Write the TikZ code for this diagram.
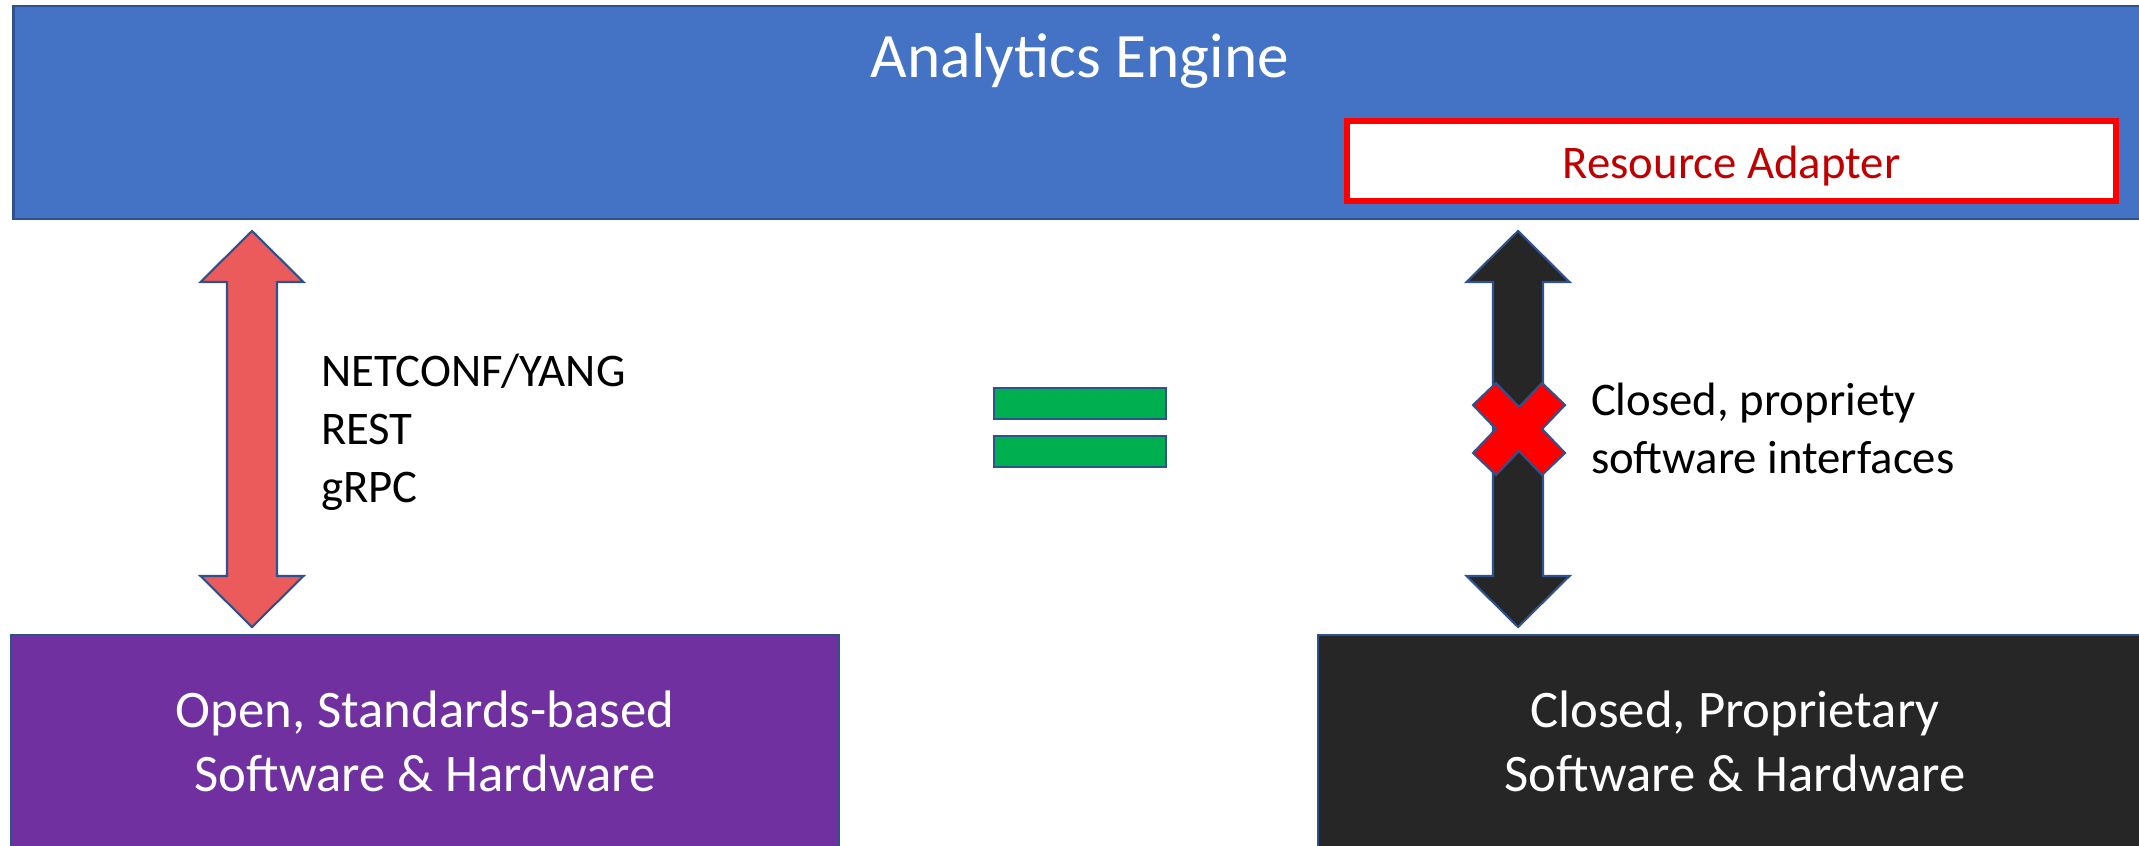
\documentclass[tikz,border=0pt]{standalone}
\usepackage{fontspec}
\setmainfont{Carlito}
\usetikzlibrary{calc}
\definecolor{engineblue}{HTML}{4472C4}
\definecolor{edgeblue}{HTML}{2F528F}
\definecolor{openpurple}{HTML}{7030A0}
\definecolor{closedgray}{HTML}{262626}
\definecolor{arrowred}{HTML}{EB5B5B}
\definecolor{eqgreen}{HTML}{00B050}
\definecolor{adapterred}{HTML}{C00000}
% block arrow with two heads, from tip #1 to tip #2
\newcommand{\dblarrow}[3]{%
  \draw[draw=edgeblue, line width=0.6pt, fill=#3] (#1) -- ++(51.5,51) -- ++(-26.5,0)
    -- ($(#2)+(25,-51)$) -- ++(26.5,0) -- (#2) -- ++(-51.5,-51) -- ++(26.5,0)
    -- ($(#1)+(-25,51)$) -- ++(-26.5,0) -- cycle;}
\begin{document}
\begin{tikzpicture}[x=0.01cm, y=-0.01cm,
    every node/.style={inner sep=0pt, outer sep=0pt},
    hwbox/.style={draw=edgeblue, line width=0.6pt, minimum height=2.12cm, align=center,
      text=white, font=\fontsize{15}{18.2}\selectfont},
    lbl/.style={align=left, anchor=base west, font=\fontsize{13.3}{16.4}\selectfont}]
    \useasboundingbox (0,0) rectangle (2139,845);
    \clip (0,0) rectangle (2139,845);
    \node[fill=engineblue, draw=edgeblue, line width=0.8pt, minimum width=21.36cm, minimum height=2.13cm] (engine) at (1082,112.5) {};
    \node[anchor=base, text=white, font=\fontsize{18}{22}\selectfont] (title) at (1080,77) {Analytics Engine};
    \node[fill=white, draw=red, line width=1.7pt, minimum width=7.69cm, minimum height=0.8cm,
      text height=11pt, text depth=1pt,
      text=adapterred, font=\fontsize{13.3}{16.4}\selectfont] (adapter) at (1731.5,161) {Resource Adapter};
    \node[hwbox, fill=openpurple, minimum width=8.28cm] (openhw) at (425,741) {Open, Standards-based\\Software \& Hardware};
    \node[hwbox, fill=closedgray, minimum width=8.34cm] (closedhw) at (1735,741) {Closed, Proprietary\\Software \& Hardware};
    \coordinate (ltop) at (252,231);
    \coordinate (lbot) at (252,627);
    \coordinate (rtop) at (1518,231);
    \coordinate (rbot) at (1518,627);
    \dblarrow{ltop}{lbot}{arrowred}
    \dblarrow{rtop}{rbot}{closedgray}
    \draw[fill=red, draw=edgeblue, line width=0.6pt, shift={(1519,429)}] (-46,-24) -- (-23,-46) -- (0,-22) -- (23,-46) -- (46,-24) -- (23,0)
      -- (46,24) -- (23,46) -- (0,22) -- (-23,46) -- (-46,24) -- (-23,0) -- cycle;
    \foreach \y in {387,435}
        \draw[fill=eqgreen, draw=edgeblue, line width=0.8pt] (994,\y+1) rectangle (1166,\y+32);
    \node[lbl] (protocols) at (321,502) {NETCONF/YANG\\REST\\gRPC};
    \node[lbl] (closedif) at (1591,473) {Closed, propriety\\software interfaces};
\end{tikzpicture}
\end{document}
